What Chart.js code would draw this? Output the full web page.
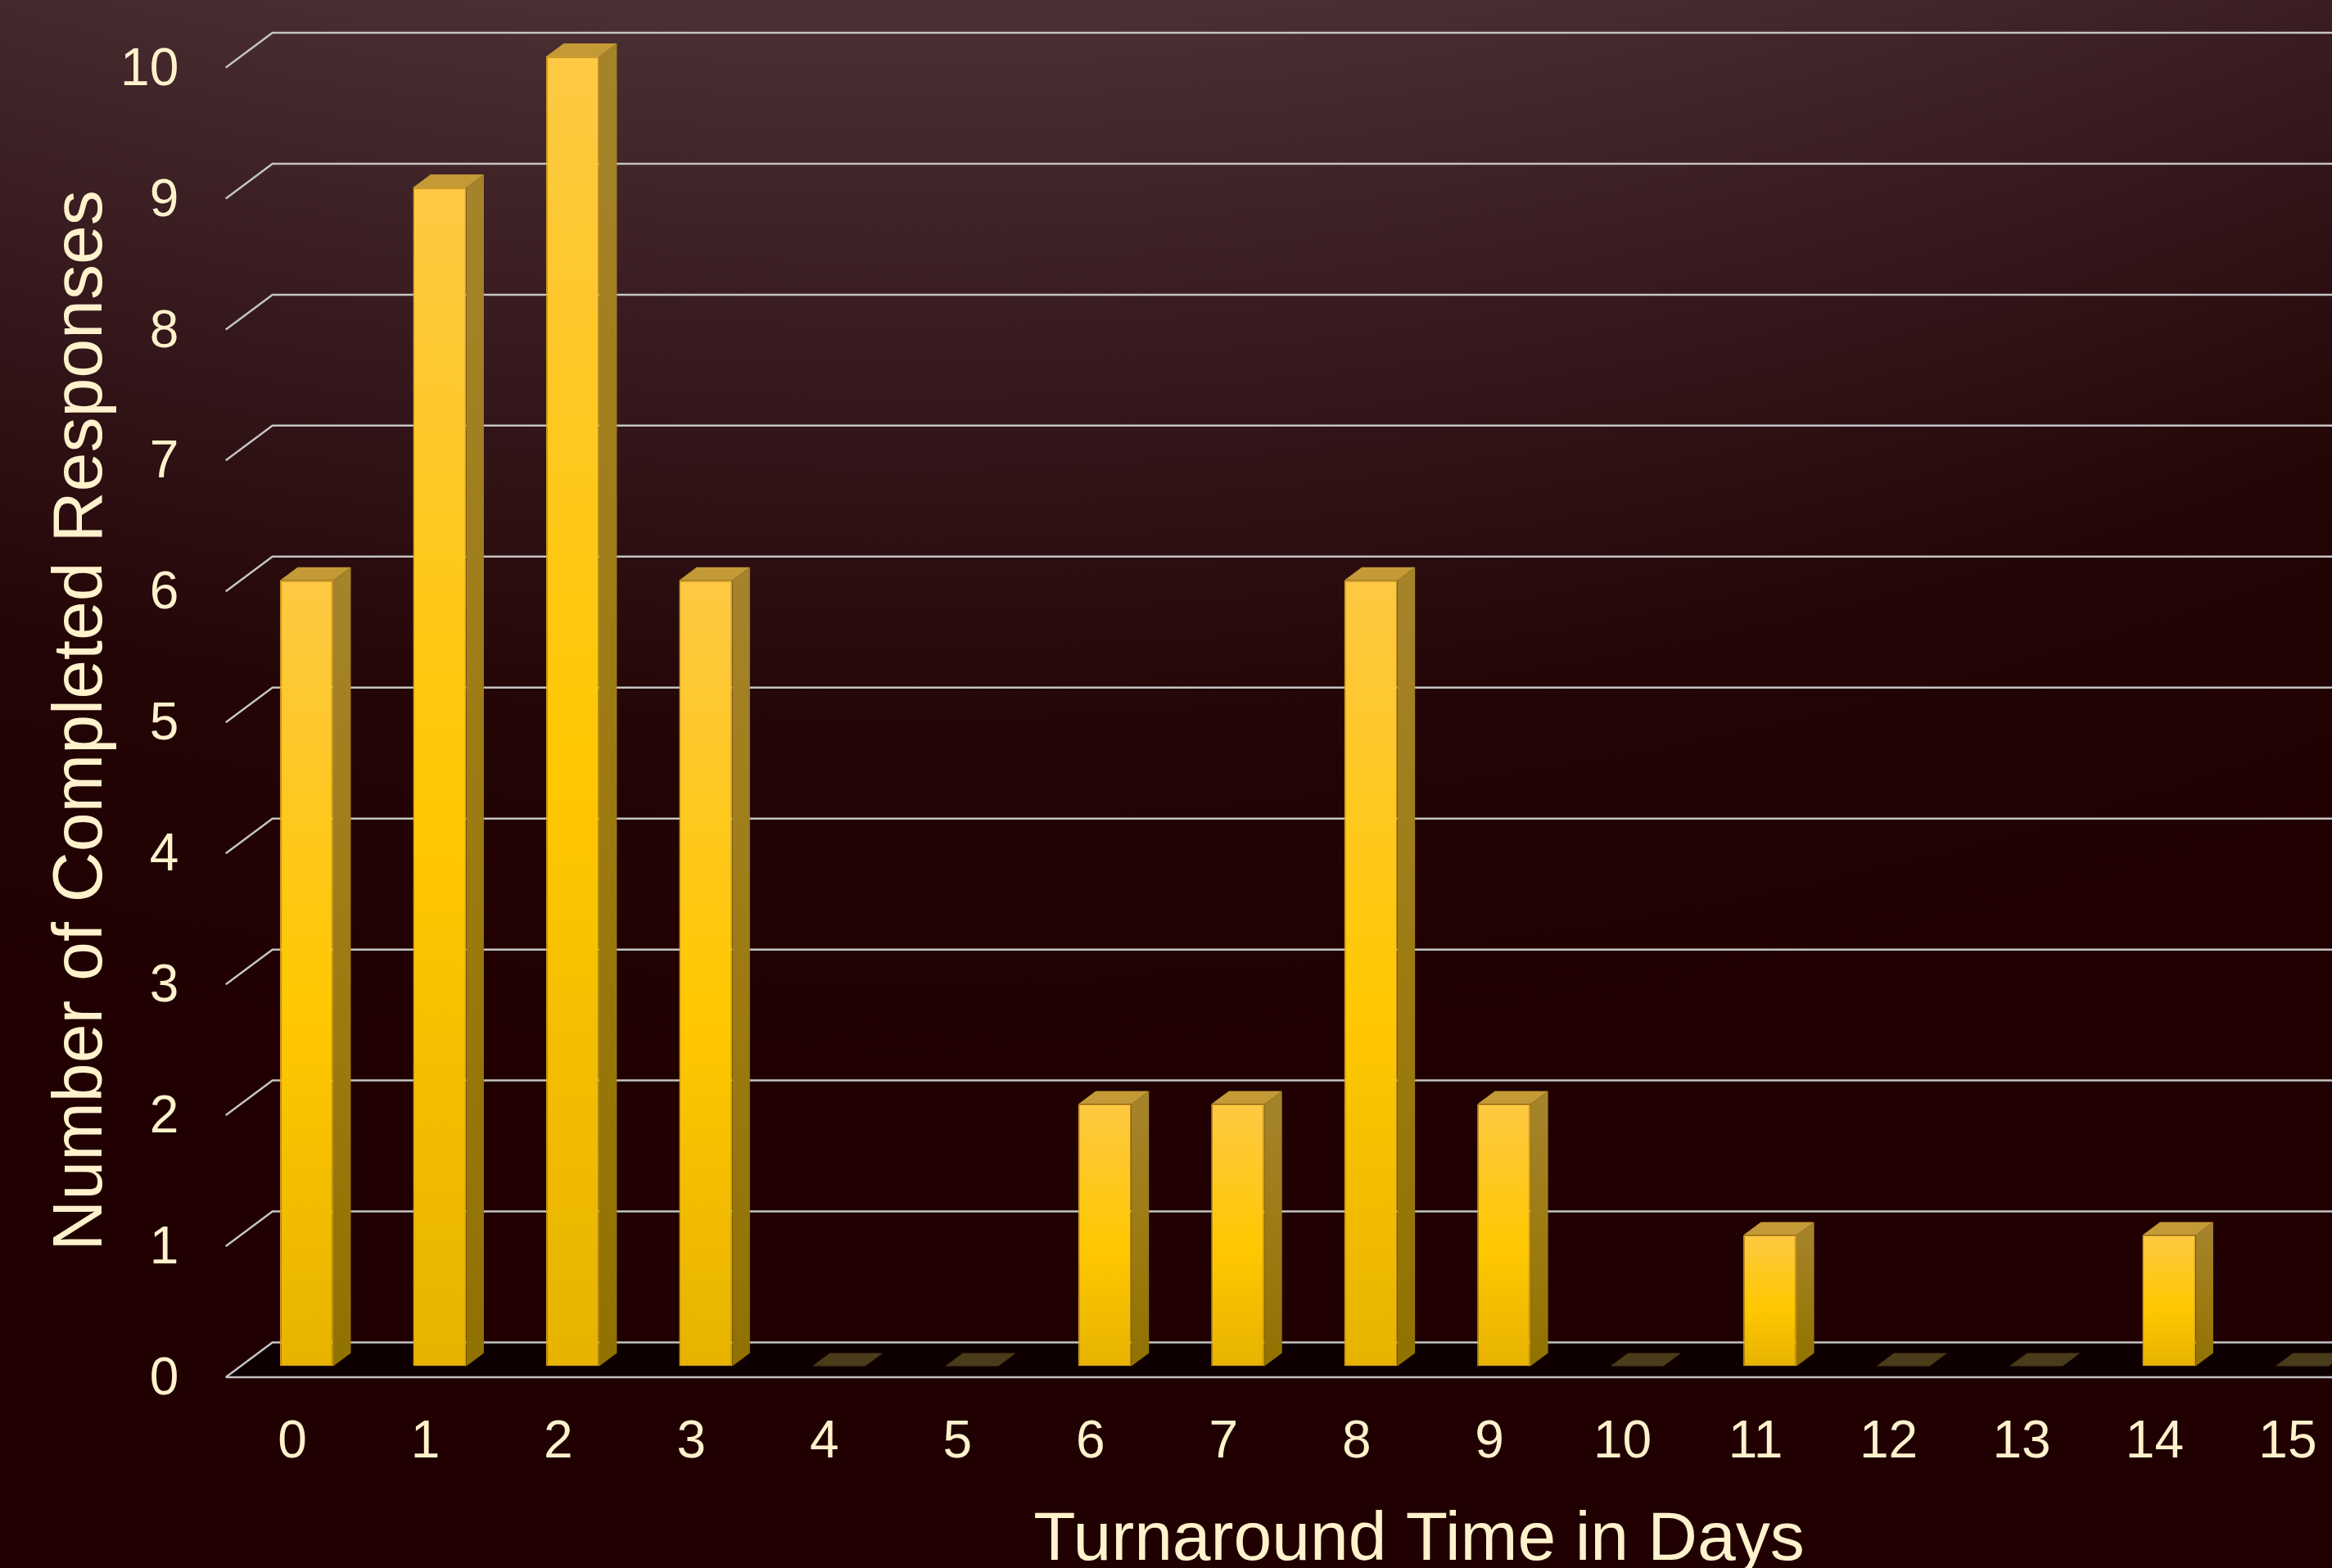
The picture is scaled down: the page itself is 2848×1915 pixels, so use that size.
<!DOCTYPE html>
<html>
<head>
<meta charset="utf-8">
<script src="https://cdn.jsdelivr.net/npm/chart.js@4.4.1/dist/chart.umd.min.js"></script>
<style>
  html, body { margin: 0; padding: 0; overflow: hidden; background: #200000; }
  #wrap { width: 2894px; height: 1915px; }
</style>
</head>
<body>
<div id="wrap"><canvas id="myChart" width="2894" height="1915"></canvas></div>
<script>
// data
const days = ['0', '1', '2', '3', '4', '5', '6', '7', '8', '9', '10', '11', '12', '13', '14', '15'];
const responses = [6, 9, 10, 6, 0, 0, 2, 2, 6, 2, 0, 1, 0, 0, 1, 0];
const yMax = 10;
const yStep = 1;
const xTitle = 'Turnaround Time in Days';
const yTitle = 'Number of Completed Responses';

const textColor = '#fff2cc';
const fontFamily = '"Liberation Sans", Arial, sans-serif';
const gridColor = '#c4c4c4';

// 3d offsets, measured from the plane the bar fronts stand in
const FRONT = { dx: -17.5, dy: 13.5 };
const BACK = { dx: 39.5, dy: -29 };
const BAR_DEPTH = { dx: 21.5, dy: -16 };

const frontFill = c => {
    const { ctx, chartArea, scales } = c.chart;
    if (!chartArea || c.raw == null) return '#ffc800';
    const top = scales.y.getPixelForValue(c.raw);
    const base = scales.y.getPixelForValue(0);
    if (base - top < 1) return 'rgba(0,0,0,0)';
    const g = ctx.createLinearGradient(0, top, 0, base);
    g.addColorStop(0, '#fec843');
    g.addColorStop(0.55, '#ffc800');
    g.addColorStop(1, '#e7b300');
    return g;
};

// background, floor, back wall grid, and the bar sides/tops
const depth3d = {
    id: 'depth3d',
    beforeDraw(chart) {
        const { ctx, width, height } = chart;
        ctx.save();
        const g = ctx.createRadialGradient(1100, -4000, 0, 1100, -4000, 5300);
        g.addColorStop(0.7547, '#4b3034');
        g.addColorStop(0.83, '#381c20');
        g.addColorStop(0.9245, '#240506');
        g.addColorStop(1, '#200000');
        ctx.fillStyle = g;
        ctx.fillRect(0, 0, width, height);
        ctx.restore();
    },
    beforeDatasetsDraw(chart) {
        const { ctx, chartArea: { left }, scales: { y } } = chart;
        const right = chart.width;
        const y0 = y.getPixelForValue(0);
        ctx.save();
        // floor
        ctx.fillStyle = '#0e0000';
        ctx.beginPath();
        ctx.moveTo(left + FRONT.dx, y0 + FRONT.dy);
        ctx.lineTo(left + BACK.dx, y0 + BACK.dy);
        ctx.lineTo(right, y0 + BACK.dy);
        ctx.lineTo(right, y0 + FRONT.dy);
        ctx.closePath();
        ctx.fill();

        ctx.strokeStyle = gridColor;
        ctx.lineWidth = 2.5;
        y.ticks.forEach(t => {
            const py = y.getPixelForValue(t.value);
            ctx.beginPath();
            ctx.moveTo(left + FRONT.dx, py + FRONT.dy);
            ctx.lineTo(left + BACK.dx, py + BACK.dy);
            ctx.lineTo(right, py + BACK.dy);
            ctx.stroke();
        });
        ctx.beginPath();
        ctx.moveTo(left + FRONT.dx, y0 + FRONT.dy);
        ctx.lineTo(right, y0 + FRONT.dy);
        ctx.stroke();
        ctx.restore();
    },
    afterDatasetsDraw(chart) {
        const { ctx } = chart;
        const meta = chart.getDatasetMeta(0);
        ctx.save();
        meta.data.forEach((bar, i) => {
            const { x, y, base, width } = bar.getProps(['x', 'y', 'base', 'width'], true);
            const l = x - width / 2;
            const r = x + width / 2;
            if (responses[i] === 0) {
                ctx.fillStyle = '#4a3b19';
                ctx.beginPath();
                ctx.moveTo(l, base);
                ctx.lineTo(l + BAR_DEPTH.dx, base + BAR_DEPTH.dy);
                ctx.lineTo(r + BAR_DEPTH.dx, base + BAR_DEPTH.dy);
                ctx.lineTo(r, base);
                ctx.closePath();
                ctx.fill();
                return;
            }
            // side
            const sg = ctx.createLinearGradient(0, y, 0, base);
            sg.addColorStop(0, '#a5832a');
            sg.addColorStop(0.5, '#9d7b12');
            sg.addColorStop(1, '#917200');
            ctx.fillStyle = sg;
            ctx.beginPath();
            ctx.moveTo(r, y);
            ctx.lineTo(r + BAR_DEPTH.dx, y + BAR_DEPTH.dy);
            ctx.lineTo(r + BAR_DEPTH.dx, base + BAR_DEPTH.dy);
            ctx.lineTo(r, base);
            ctx.closePath();
            ctx.fill();
            // top
            ctx.fillStyle = '#c49a36';
            ctx.beginPath();
            ctx.moveTo(l, y);
            ctx.lineTo(l + BAR_DEPTH.dx, y + BAR_DEPTH.dy);
            ctx.lineTo(r + BAR_DEPTH.dx, y + BAR_DEPTH.dy);
            ctx.lineTo(r, y);
            ctx.closePath();
            ctx.fill();
        });
        ctx.restore();
    },
    afterDraw(chart) {
        const { ctx } = chart;
        ctx.save();
        ctx.fillStyle = textColor;
        ctx.textAlign = 'center';
        ctx.textBaseline = 'alphabetic';
        ctx.font = '84px ' + fontFamily;
        ctx.fillText(xTitle, 1733, 1905);
        ctx.translate(124, 880);
        ctx.rotate(-Math.PI / 2);
        ctx.font = '86px ' + fontFamily;
        ctx.fillText(yTitle, 0, 0);
        ctx.restore();
    }
};

const data = {
    labels: days,
    datasets: [{
        label: yTitle,
        data: responses,
        backgroundColor: frontFill,
        borderColor: '#d39f1e',
        borderWidth: c => (c.raw === 0 ? 0 : 1.5),
        borderSkipped: false,
        barPercentage: 0.4,
        categoryPercentage: 1
    }]
};

const config = {
    type: 'bar',
    data: data,
    options: {
        responsive: false,
        devicePixelRatio: 1,
        animation: false,
        layout: {
            padding: { left: 0, top: 69, right: 0, bottom: 0 }
        },
        scales: {
            x: {
                offset: true,
                grid: { display: false },
                border: { display: false },
                ticks: {
                    color: textColor,
                    font: { family: fontFamily, size: 64 },
                    padding: 47,
                    labelOffset: FRONT.dx,
                    maxRotation: 0,
                    autoSkip: false
                },
                afterFit: s => { s.height = 246.5; }
            },
            y: {
                min: 0,
                max: yMax,
                grid: { display: false },
                border: { display: false },
                ticks: {
                    stepSize: yStep,
                    color: textColor,
                    font: { family: fontFamily, size: 64 },
                    padding: 67,
                    labelOffset: 17
                },
                afterFit: s => {
                    s.width = 293.25;
                    s.paddingTop = 0;
                    s.paddingBottom = 0;
                }
            }
        },
        plugins: {
            legend: { display: false },
            tooltip: { enabled: false }
        }
    },
    plugins: [depth3d]
};

const myChart = new Chart(document.getElementById('myChart'), config);
</script>
</body>
</html>
